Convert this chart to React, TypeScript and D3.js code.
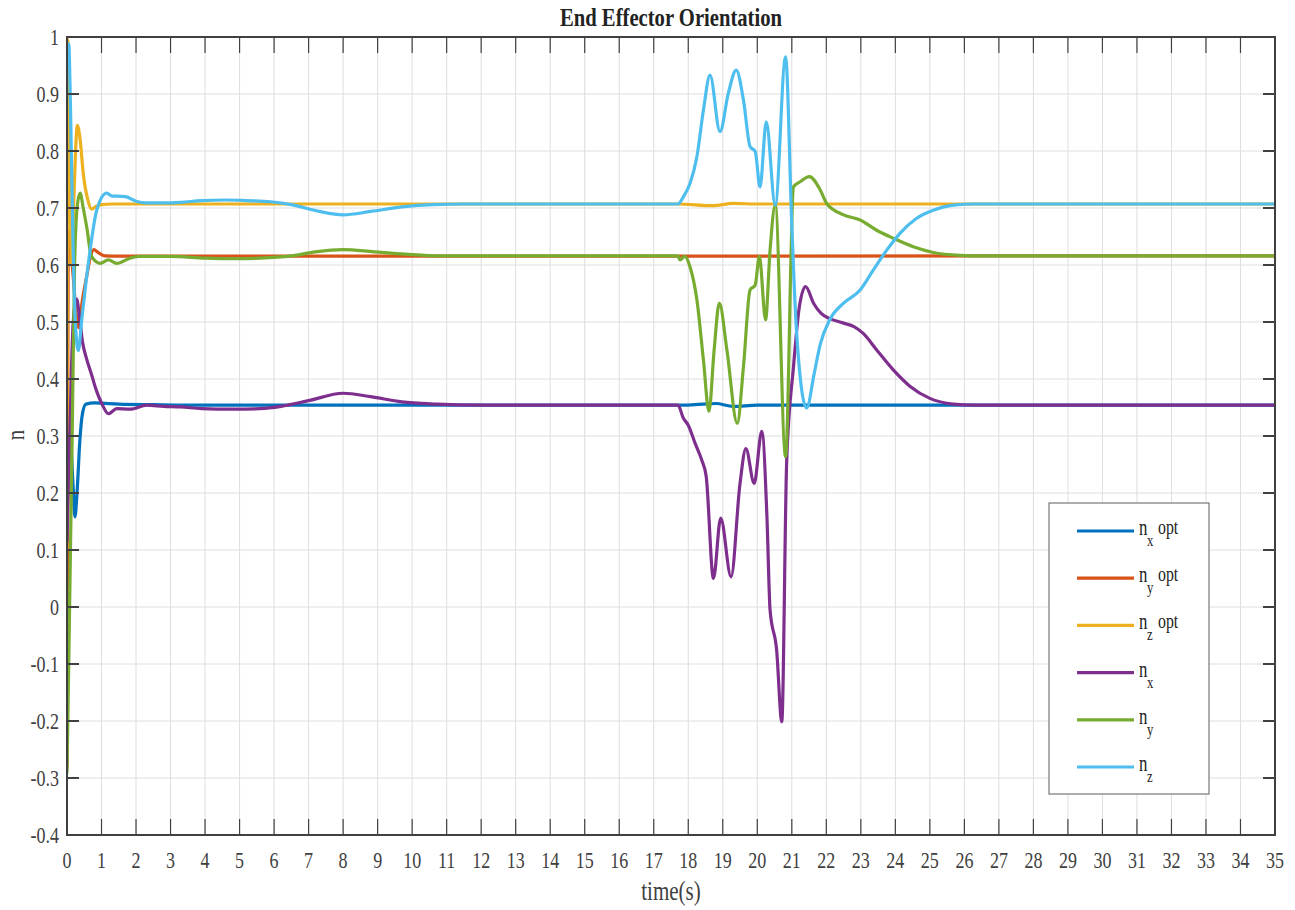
import React from "react";
import * as d3 from "d3";

// Time samples [t (s), value] for each orientation component
const nxOpt: [number, number][] = [
  [0, 0.34], [0.1, 0.3], [0.17, 0.22], [0.23, 0.158], [0.3, 0.21], [0.37, 0.29], [0.45, 0.34],
  [0.55, 0.356], [0.8, 0.358], [1.5, 0.356], [2.5, 0.355], [4, 0.354], [17.7, 0.354],
  [18.2, 0.355], [18.8, 0.357], [19.3, 0.352], [20, 0.354], [35, 0.354],
];
const nyOpt: [number, number][] = [
  [0, -0.28], [0.02, 0.3], [0.04, 0.66], [0.15, 0.6], [0.33, 0.49], [0.45, 0.54], [0.57, 0.58],
  [0.68, 0.615], [0.78, 0.627], [0.9, 0.622], [1.1, 0.616], [1.5, 0.6155], [35, 0.616],
];
const nzOpt: [number, number][] = [
  [0, 0.1], [0.02, 0.995], [0.06, 0.9], [0.13, 0.6], [0.2, 0.72], [0.3, 0.845], [0.38, 0.82],
  [0.47, 0.761], [0.6, 0.715], [0.71, 0.698], [0.85, 0.703], [1.0, 0.706], [1.3, 0.707],
  [17.7, 0.707], [18.7, 0.704], [19.3, 0.708], [20, 0.707], [35, 0.707],
];
const nx: [number, number][] = [
  [0, 0.115], [0.08, 0.3], [0.18, 0.5], [0.28, 0.54], [0.36, 0.51], [0.45, 0.465], [0.57, 0.435],
  [0.7, 0.41], [0.85, 0.38], [1.0, 0.358], [1.2, 0.339], [1.44, 0.348], [1.83, 0.347],
  [2.31, 0.354], [2.8, 0.352], [3.3, 0.351], [3.9, 0.348], [4.8, 0.347], [5.6, 0.348],
  [6.2, 0.352], [7.0, 0.362], [8.0, 0.375], [8.8, 0.369], [9.7, 0.36], [10.7, 0.356],
  [12, 0.354], [17.7, 0.354], [17.86, 0.331], [18.0, 0.319], [18.2, 0.287], [18.39, 0.258],
  [18.52, 0.229], [18.73, 0.05], [18.94, 0.156], [19.24, 0.053], [19.5, 0.217], [19.67, 0.278],
  [19.91, 0.217], [20.13, 0.308], [20.28, 0.158], [20.37, -0.005], [20.56, -0.075],
  [20.71, -0.201], [20.85, 0.252], [21.05, 0.422], [21.22, 0.527], [21.4, 0.562],
  [21.63, 0.533], [21.85, 0.515], [22.1, 0.506], [22.5, 0.498], [22.8, 0.492], [23.07, 0.48],
  [23.46, 0.451], [23.94, 0.416], [24.43, 0.387], [25.0, 0.366], [25.68, 0.356],
  [26.3, 0.354], [35, 0.354],
];
const ny: [number, number][] = [
  [0, -0.29], [0.05, -0.1], [0.15, 0.3], [0.22, 0.6], [0.3, 0.705], [0.38, 0.726], [0.47, 0.7],
  [0.57, 0.667], [0.71, 0.615], [0.96, 0.603], [1.2, 0.609], [1.44, 0.603], [1.83, 0.612],
  [2.1, 0.615], [3.0, 0.615], [4.0, 0.612], [4.8, 0.611], [5.6, 0.612], [6.5, 0.616],
  [7.2, 0.623], [8.0, 0.627], [8.9, 0.623], [9.8, 0.619], [10.8, 0.616], [17.7, 0.616],
  [17.76, 0.609], [17.9, 0.615], [18.05, 0.597], [18.25, 0.539], [18.44, 0.433], [18.6, 0.343],
  [18.75, 0.451], [18.9, 0.533], [19.12, 0.451], [19.42, 0.322], [19.6, 0.422], [19.79, 0.556],
  [19.94, 0.565], [20.06, 0.615], [20.24, 0.504], [20.37, 0.626], [20.52, 0.705],
  [20.82, 0.264], [21.05, 0.737], [21.24, 0.746], [21.51, 0.755], [21.82, 0.732],
  [22.01, 0.708], [22.5, 0.688], [22.98, 0.679], [23.46, 0.661], [23.94, 0.647],
  [24.52, 0.632], [25.1, 0.622], [25.88, 0.617], [26.5, 0.616], [35, 0.616],
];
const nz: [number, number][] = [
  [0, 0.95], [0.05, 0.988], [0.1, 0.88], [0.18, 0.62], [0.26, 0.48], [0.33, 0.45], [0.42, 0.5],
  [0.55, 0.57], [0.67, 0.626], [0.86, 0.696], [1.15, 0.726], [1.3, 0.721], [1.45, 0.721],
  [1.7, 0.72], [2.0, 0.712], [2.3, 0.709], [2.8, 0.709], [3.3, 0.71], [3.9, 0.713],
  [4.6, 0.714], [5.2, 0.713], [5.9, 0.711], [6.5, 0.706], [7.3, 0.694], [8.0, 0.688],
  [8.8, 0.694], [9.7, 0.702], [10.6, 0.706], [11.5, 0.707], [17.7, 0.707], [17.86, 0.72],
  [18.05, 0.743], [18.25, 0.79], [18.44, 0.872], [18.63, 0.933], [18.92, 0.834],
  [19.16, 0.901], [19.39, 0.942], [19.6, 0.889], [19.79, 0.808], [19.94, 0.799],
  [20.08, 0.737], [20.26, 0.851], [20.52, 0.705], [20.82, 0.965], [21.0, 0.67],
  [21.14, 0.48], [21.43, 0.349], [21.65, 0.41], [21.82, 0.46], [22.1, 0.504], [22.5, 0.533],
  [22.98, 0.556], [23.36, 0.591], [23.75, 0.626], [24.14, 0.656], [24.62, 0.682],
  [25.1, 0.696], [25.68, 0.705], [26.3, 0.707], [35, 0.707],
];

const seriesNames = ["x opt", "y opt", "z opt", "x", "y", "z"];
const seriesColors = ["#0072BD", "#D95319", "#EDB120", "#7E2F8E", "#77AC30", "#4DBEEE"];
const seriesData = [nxOpt, nyOpt, nzOpt, nx, ny, nz];

const xTicks = d3.range(0, 36, 1);
const yTicks = [-0.4, -0.3, -0.2, -0.1, 0, 0.1, 0.2, 0.3, 0.4, 0.5, 0.6, 0.7, 0.8, 0.9, 1];

const W = 1295;
const H = 910;
const plot = { left: 67, top: 37, right: 1275, bottom: 835 };
const FONT = "'Liberation Serif', 'Times New Roman', serif";
const TEXT = "#404040";
const SX = 0.75; // narrow glyph width

function NText(props: {
  x: number; y: number; size: number; anchor?: string; sx?: number;
  weight?: string; fill?: string; children: React.ReactNode;
}) {
  const { x, y, size, anchor = "start", sx = SX, weight = "normal", fill = TEXT, children } = props;
  return (
    <text
      transform={`translate(${x},${y}) scale(${sx},1)`}
      fontSize={size}
      fontFamily={FONT}
      fontWeight={weight}
      textAnchor={anchor}
      fill={fill}
    >
      {children}
    </text>
  );
}

const fmt = (v: number) => String(Math.round(v * 10) / 10);

export default function App() {
  const x = d3.scaleLinear().domain([0, 35]).range([plot.left, plot.right]);
  const y = d3.scaleLinear().domain([-0.4, 1]).range([plot.bottom, plot.top]);
  const line = d3
    .line<[number, number]>()
    .x((d) => x(d[0]))
    .y((d) => y(d[1]))
    .curve(d3.curveMonotoneX);

  const legend = { x: 1049, y: 503, w: 160, h: 291 };
  const rowY = (i: number) => 531 + i * 47.2;

  return (
    <svg
      width={W}
      height={H}
      style={{ position: "absolute", left: 0, top: 0, background: "#fff" }}
    >
      <rect x={0} y={0} width={W} height={H} fill="#fff" />
      <defs>
        <clipPath id="plotClip">
          <rect x={plot.left} y={plot.top - 2} width={plot.right - plot.left} height={plot.bottom - plot.top + 4} />
        </clipPath>
      </defs>

      {/* grid */}
      <g stroke="#dedede" strokeWidth={1}>
        {xTicks.map((t) => (
          <line key={"gx" + t} x1={x(t)} x2={x(t)} y1={plot.top} y2={plot.bottom} />
        ))}
        {yTicks.map((t) => (
          <line key={"gy" + t} x1={plot.left} x2={plot.right} y1={y(t)} y2={y(t)} />
        ))}
      </g>

      {/* series */}
      <g clipPath="url(#plotClip)" fill="none" strokeWidth={3.2} strokeLinejoin="round" strokeLinecap="round">
        {seriesData.map((d, i) => (
          <path key={i} d={line(d) || ""} stroke={seriesColors[i]} />
        ))}
      </g>

      {/* axes box and ticks */}
      <g stroke={TEXT}>
        <rect
          x={plot.left}
          y={plot.top}
          width={plot.right - plot.left}
          height={plot.bottom - plot.top}
          fill="none"
          strokeWidth={2}
        />
        {xTicks.map((t) => (
          <g key={"tx" + t} strokeWidth={1.2}>
            <line x1={x(t)} x2={x(t)} y1={plot.bottom} y2={plot.bottom - 16} />
            <line x1={x(t)} x2={x(t)} y1={plot.top} y2={plot.top + 16} />
          </g>
        ))}
        {yTicks.map((t) => (
          <g key={"ty" + t} strokeWidth={2}>
            <line x1={plot.left} x2={plot.left + 12} y1={y(t)} y2={y(t)} />
            <line x1={plot.right} x2={plot.right - 12} y1={y(t)} y2={y(t)} />
          </g>
        ))}
      </g>

      {/* tick labels */}
      {xTicks.map((t) => (
        <NText key={"lx" + t} x={x(t)} y={868} size={24} anchor="middle">
          {fmt(t)}
        </NText>
      ))}
      {yTicks.map((t) => (
        <NText key={"ly" + t} x={59} y={y(t) + 8} size={24} anchor="end">
          {fmt(t)}
        </NText>
      ))}

      {/* titles */}
      <text
        x={(plot.left + plot.right) / 2}
        y={26}
        fontSize={25}
        fontFamily={FONT}
        fontWeight="bold"
        textAnchor="middle"
        fill="#222"
        textLength={222}
        lengthAdjust="spacingAndGlyphs"
      >
        End Effector Orientation
      </text>
      <NText x={(plot.left + plot.right) / 2} y={900} size={27} anchor="middle" sx={0.78}>
        time(s)
      </NText>
      <g transform={`translate(24,435) rotate(-90)`}>
        <NText x={0} y={0} size={26} anchor="middle" sx={0.8}>
          n
        </NText>
      </g>

      {/* legend */}
      <rect x={legend.x} y={legend.y} width={legend.w} height={legend.h} fill="#fff" stroke="#777" strokeWidth={1.2} />
      {seriesNames.map((name, i) => {
        const [sub, rest] = name.split(" ");
        const ly = rowY(i);
        return (
          <g key={"lg" + i}>
            <line x1={1077} x2={1134} y1={ly} y2={ly} stroke={seriesColors[i]} strokeWidth={3.2} />
            <NText x={1139} y={ly + 4} size={24} sx={0.7} fill="#222">n</NText>
            <NText x={1147} y={ly + 15} size={17} sx={0.75} fill="#222">{sub}</NText>
            {rest && (
              <NText x={1158} y={ly + 3} size={22} sx={0.72} fill="#222">{rest}</NText>
            )}
          </g>
        );
      })}
    </svg>
  );
}
